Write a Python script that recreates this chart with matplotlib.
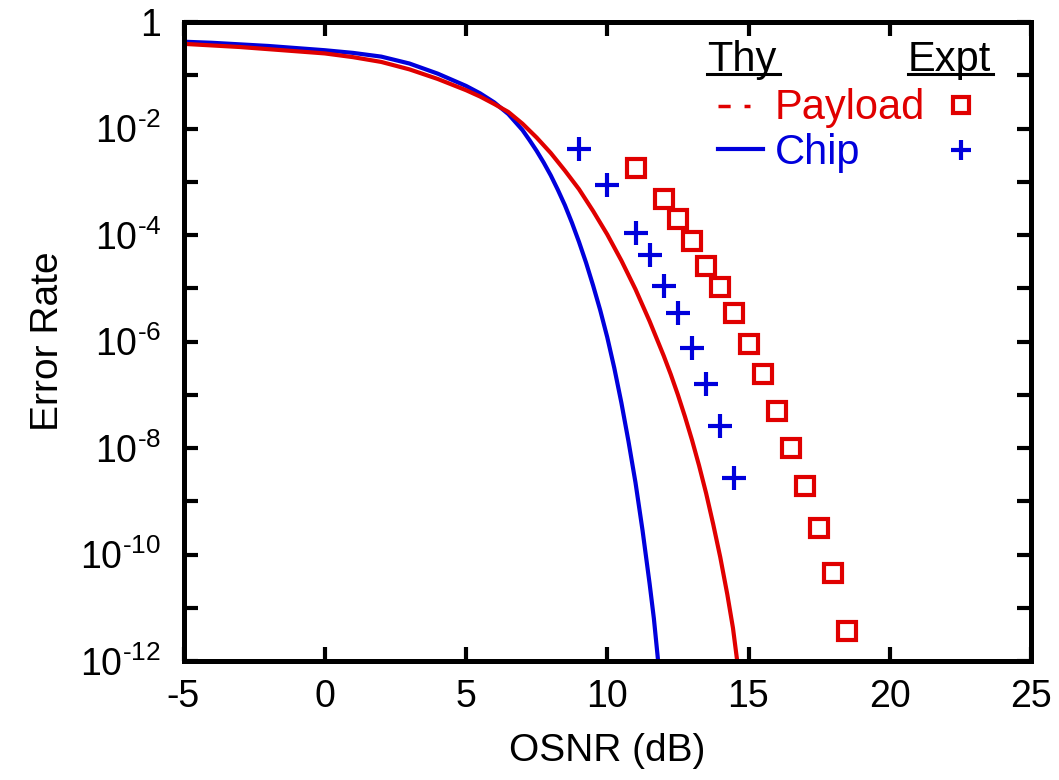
import numpy as np
import matplotlib
matplotlib.use("Agg")
import matplotlib.pyplot as plt
from matplotlib.ticker import FixedLocator, FixedFormatter
from matplotlib.lines import Line2D

plt.rcParams['font.family'] = ['Liberation Sans', 'DejaVu Sans']
plt.rcParams['mathtext.fontset'] = 'custom'
plt.rcParams['mathtext.rm'] = 'Liberation Sans'
plt.rcParams['mathtext.it'] = 'Liberation Sans'
plt.rcParams['mathtext.default'] = 'regular'
plt.rcParams['axes.unicode_minus'] = False

# ---------------- data ----------------
# theory curves (log10 of error rate)
thy_chip_x = [-5, -4, -3, -2, -1, 0, 1, 2, 3, 4, 5, 5.5, 6, 6.5,
              7.0, 7.25, 7.5, 7.75, 8.0, 8.25, 8.5, 8.75, 9.0, 9.25, 9.5, 9.75,
              10.0, 10.25, 10.5, 10.75, 11.0, 11.25, 11.5, 11.65, 11.8]
thy_chip_log = [-0.37, -0.39, -0.42, -0.45, -0.49, -0.53, -0.58, -0.65, -0.78, -0.97,
                -1.20, -1.34, -1.51, -1.73,
                -2.03, -2.22, -2.42, -2.64, -2.88, -3.15, -3.44, -3.77, -4.13, -4.52,
                -4.95, -5.41, -5.92, -6.50, -7.15, -7.87, -8.65, -9.55, -10.55, -11.2,
                -12.0]
thy_payload_x = [-5, -4, -3, -2, -1, 0, 1, 2, 3, 4, 5, 5.5, 6, 6.5, 7, 7.5, 8, 8.5,
                 9, 9.5, 10, 10.5, 11, 11.5, 12.0, 12.25, 12.5, 12.75, 13.0, 13.25,
                 13.5, 13.75, 14.0, 14.25, 14.45, 14.6]
thy_payload_log = [-0.41, -0.44, -0.47, -0.51, -0.55, -0.59, -0.66, -0.75, -0.89, -1.07,
                   -1.28, -1.40, -1.54, -1.69, -1.91, -2.17, -2.46, -2.79, -3.14, -3.55,
                   -3.99, -4.48, -5.02, -5.62, -6.27, -6.62, -7.00, -7.41, -7.85, -8.33,
                   -8.85, -9.43, -10.05, -10.75, -11.38, -12.0]

# experimental points
expt_payload_x = [11, 12, 12.5, 13, 13.5, 14, 14.5, 15, 15.5, 16, 16.5, 17, 17.5, 18, 18.5]
expt_payload_y = [1.8e-3, 4.7e-4, 2.0e-4, 7.6e-5, 2.6e-5, 1.05e-5, 3.4e-6, 8.9e-7,
                  2.5e-7, 4.9e-8, 1.0e-8, 1.9e-9, 3.2e-10, 4.4e-11, 3.7e-12]
expt_chip_x = [9, 10, 11, 11.5, 12, 12.5, 13, 13.5, 14, 14.5]
expt_chip_y = [4.1e-3, 8.6e-4, 1.07e-4, 4.2e-5, 1.1e-5, 3.4e-6, 7.5e-7, 1.6e-7, 2.6e-8, 2.7e-9]

x_ticks = [-5, 0, 5, 10, 15, 20, 25]
y_tick_exps = list(range(0, -13, -1))
y_tick_labels = ['1', '', r'10$^{\text{-2}}$', '', r'10$^{\text{-4}}$', '',
                 r'10$^{\text{-6}}$', '', r'10$^{\text{-8}}$', '', r'10$^{\text{-10}}$', '',
                 r'10$^{\text{-12}}$']

RED = '#e00000'
BLUE = '#0000dc'

W, H = 1059, 780
fig = plt.figure(figsize=(W / 100, H / 100), dpi=100)
ax = fig.add_axes([183.5 / W, 1 - 661 / H, (1031 - 183.5) / W, (661 - 22) / H])

ax.plot(thy_chip_x, 10.0 ** np.array(thy_chip_log), color=BLUE, lw=3.0,
        solid_joinstyle='round')
ax.plot(thy_payload_x, 10.0 ** np.array(thy_payload_log), color=RED, lw=3.0,
        solid_joinstyle='round')
ax.plot(expt_chip_x, expt_chip_y, ls='none', marker='+', ms=17, mew=3.0, color=BLUE)
ax.plot(expt_payload_x, expt_payload_y, ls='none', marker='s', ms=13.5, mew=3.0,
        mfc='none', mec=RED)

ax.set_yscale('log')
ax.set_xlim(-5, 25)
ax.set_ylim(1e-12, 1)
ax.xaxis.set_major_locator(FixedLocator(x_ticks))
ax.set_xticklabels([str(v) for v in x_ticks])
ax.yaxis.set_major_locator(FixedLocator([10.0 ** e for e in y_tick_exps]))
ax.yaxis.set_major_formatter(FixedFormatter(y_tick_labels))
ax.yaxis.set_minor_locator(FixedLocator([]))

for s in ax.spines.values():
    s.set_linewidth(3.6)
ax.tick_params(which='both', direction='in', length=10, width=3.0,
               top=True, right=True, labelsize=27)
ax.tick_params(axis='x', pad=13)
ax.tick_params(axis='y', pad=16)

ax.set_xlabel('OSNR (dB)', fontsize=28, labelpad=13)
ax.set_ylabel('Error Rate', fontsize=28, labelpad=10)

# ---------------- legend (custom layout, pixel coords) ----------------
def fx(px):
    return px / W

def fy(py):
    return 1 - py / H

fs_leg = 30
fig.text(fx(707), fy(71), 'Thy', fontsize=fs_leg, color='black', va='baseline', ha='left')
fig.text(fx(908), fy(71), 'Expt', fontsize=fs_leg, color='black', va='baseline', ha='left')
fig.add_artist(Line2D([fx(707), fx(780)], [fy(74), fy(74)], color='black', lw=2.2))
fig.add_artist(Line2D([fx(908), fx(993)], [fy(74), fy(74)], color='black', lw=2.2))

fig.text(fx(775), fy(119), 'Payload', fontsize=fs_leg, color=RED, va='baseline', ha='left')
fig.text(fx(775), fy(164), 'Chip', fontsize=fs_leg, color=BLUE, va='baseline', ha='left')
fig.add_artist(Line2D([fx(718), fx(750)], [fy(106), fy(106)], color=RED, lw=2.5,
                      ls=(0, (3.5, 4))))
fig.add_artist(Line2D([fx(718), fx(763)], [fy(149), fy(149)], color=BLUE, lw=3.0))
fig.add_artist(Line2D([fx(961)], [fy(105)], ls='none', marker='s', ms=12, mew=3.0,
                      mfc='none', mec=RED))
fig.add_artist(Line2D([fx(961)], [fy(150)], ls='none', marker='+', ms=14, mew=3.0,
                      color=BLUE))

fig.savefig('out.png', dpi=100)
